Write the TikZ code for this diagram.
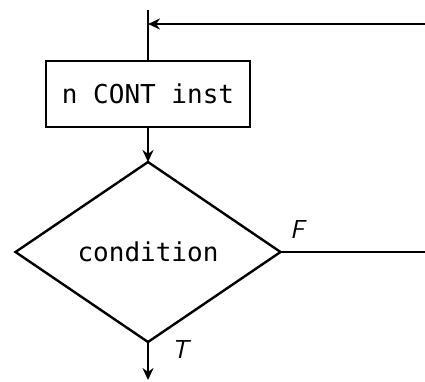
\documentclass[tikz,border=0pt]{standalone}
\usepackage{fontspec}
\setmonofont{DejaVu Sans Mono}
\usetikzlibrary{arrows.meta,shapes.geometric}
\tikzset{
  instbox/.style={
    draw, line width=2.4pt, minimum width=204pt, minimum height=66pt,
    inner sep=0pt, outer sep=0pt, font=\ttfamily\fontsize{26}{30}\selectfont
  },
  decision/.style={
    diamond, draw, line width=2.4pt, minimum width=265pt, minimum height=180pt,
    inner sep=0pt, outer sep=0pt, font=\ttfamily\fontsize{26}{30}\selectfont
  },
  branch/.style={font=\sffamily\itshape\fontsize{26}{28}\selectfont, inner sep=0pt},
  flow/.style={-{Stealth[length=12pt,width=11pt]}, line width=2pt},
  plain/.style={line width=2pt}
}
\begin{document}
\begin{tikzpicture}[x=1pt,y=-1pt]
  \useasboundingbox (0,0) rectangle (425,381);
  % nodes
  \node[instbox] (cont) at (148,94) {n CONT inst};
  \node[decision] (cond) at (148,252) {condition};
  \coordinate (top) at (148,10);
  \coordinate (join) at (148,24);
  \coordinate (back) at (425,24);
  \coordinate (fout) at (425,252);
  \coordinate (tout) at (148,380);
  \node[branch] (flab) at (297,229) {F};
  \node[branch] (tlab) at (180,350) {T};
  % connectors
  \draw[plain] (top) -- (cont.north);
  \draw[flow] (back) -- (join);
  \draw[flow] (cont.south) -- (cond.north);
  \draw[plain] (cond.east) -- (fout);
  \draw[flow] (cond.south) -- (tout);
\end{tikzpicture}
\end{document}
